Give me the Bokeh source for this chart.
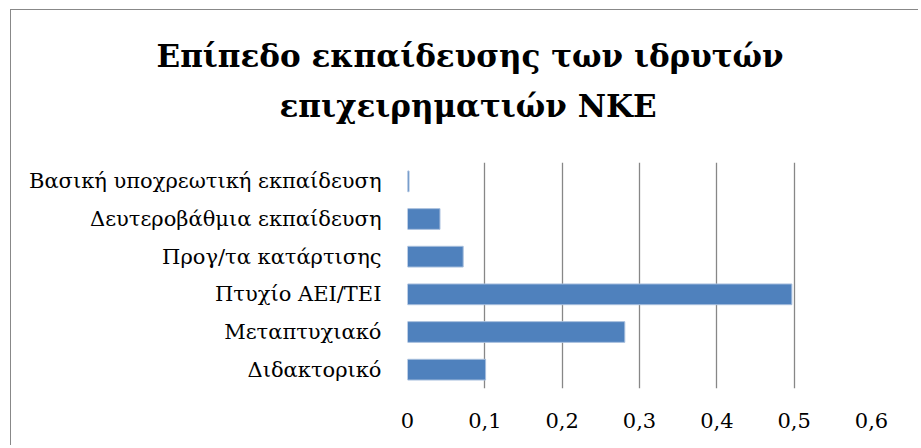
from bokeh.plotting import figure
from bokeh.models import Title, FactorRange, FixedTicker, CustomJSTickFormatter
from bokeh.embed import file_html
from bokeh.resources import INLINE

categories = ["Βασική υποχρεωτική εκπαίδευση", "Δευτεροβάθμια εκπαίδευση",
              "Προγ/τα κατάρτισης", "Πτυχίο ΑΕΙ/ΤΕΙ", "Μεταπτυχιακό", "Διδακτορικό"]
values = [0.002, 0.042, 0.072, 0.497, 0.281, 0.101]
x_ticks = [0, 0.1, 0.2, 0.3, 0.4, 0.5, 0.6]
title_lines = ["Επίπεδο εκπαίδευσης των ιδρυτών", "επιχειρηματιών ΝΚΕ"]

FONT = "DejaVu Serif"

p = figure(width=908, height=436, output_backend="svg", toolbar_location=None,
           y_range=FactorRange(factors=list(reversed(categories))),
           x_range=(0, 0.6))
p.min_border_left = 396
p.min_border_right = 48
p.min_border_top = 152
p.min_border_bottom = 58
p.styles = {"margin-left": "10px", "margin-top": "9px",
            "border-left": "1.5px solid #888888", "border-top": "1.5px solid #888888"}

p.hbar(y=categories, right=values, height=0.55, color="#4F81BD",
       line_color="#A7BEDD", line_width=1)

spacer = Title(text=" ", text_font_size="1px", standoff=24)
t2 = Title(text=title_lines[1], align="left", offset=-128, text_font=FONT,
           text_font_size="31px", text_font_style="bold", text_color="black", standoff=24)
t1 = Title(text=title_lines[0], align="left", offset=-251, text_font=FONT,
           text_font_size="31px", text_font_style="bold", text_color="black", standoff=0)
p.add_layout(spacer, "above")
p.add_layout(t2, "above")
p.add_layout(t1, "above")

p.outline_line_color = None
p.ygrid.grid_line_color = None
p.xgrid.grid_line_color = "#878787"
p.xgrid.grid_line_width = 1.3
p.xgrid.ticker = FixedTicker(ticks=x_ticks)

p.xaxis.ticker = FixedTicker(ticks=x_ticks)
p.xaxis.formatter = CustomJSTickFormatter(code="return tick === 0 ? '0' : tick.toFixed(1).replace('.', ',');")
p.xaxis.axis_line_color = None
p.xaxis.major_tick_line_color = None
p.xaxis.minor_tick_line_color = None
p.xaxis.major_label_standoff = 18
p.xaxis.major_label_text_font = FONT
p.xaxis.major_label_text_font_size = "21px"
p.xaxis.major_label_text_color = "black"

p.yaxis.axis_line_color = None
p.yaxis.major_tick_line_color = None
p.yaxis.minor_tick_line_color = None
p.yaxis.major_label_standoff = 20
p.yaxis.major_label_text_font = FONT
p.yaxis.major_label_text_font_size = "21px"
p.yaxis.major_label_text_color = "black"

open("out.html", "w").write(file_html(p, INLINE))
